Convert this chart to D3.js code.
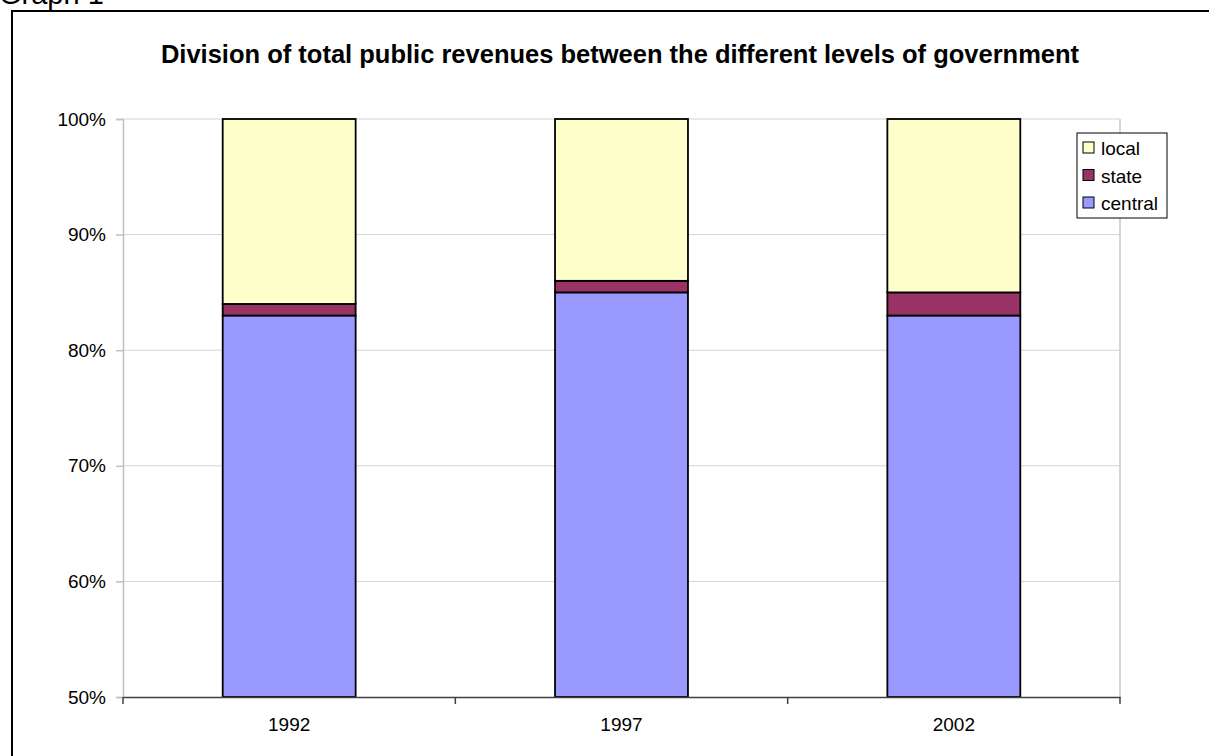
<!DOCTYPE html>
<html><head><meta charset="utf-8">
<script src="https://cdn.jsdelivr.net/npm/d3@7"></script>
<style>body{margin:0;background:#fff}svg{display:block;font-family:"Liberation Sans",Arial,sans-serif}</style>
</head><body><svg id="c" width="1209" height="756"></svg>
<script>
const categories = ["1992", "1997", "2002"];
const seriesNames = ["central", "state", "local"];
const central = [83, 85, 83];
const state = [1, 1, 2];
const local = [16, 14, 15];
const yTicks = [50, 60, 70, 80, 90, 100];
const colors = {central: "#9999FF", state: "#993366", local: "#FFFFCC"};

const svg = d3.select("#c");
// outer frame
svg.append("line").attr("x1", 12).attr("x2", 1209).attr("y1", 11).attr("y2", 11).attr("stroke", "#000").attr("stroke-width", 2);
svg.append("line").attr("x1", 12).attr("x2", 12).attr("y1", 10).attr("y2", 756).attr("stroke", "#000").attr("stroke-width", 2);
svg.append("text").attr("x", -1).attr("y", 4).attr("font-size", 29).text("Graph 1");

svg.append("text").attr("x", 620).attr("y", 63).attr("text-anchor", "middle")
  .attr("font-size", 25.5).attr("font-weight", "bold").text("Division of total public revenues between the different levels of government");

const L = 123, R = 1120, T = 119, B = 697;
const x = d3.scaleBand().domain(categories).range([L, R]).paddingInner(0).paddingOuter(0);
const y = d3.scaleLinear().domain([50, 100]).range([B, T]);

// gridlines
svg.append("g").selectAll("line").data(yTicks.slice(1)).join("line")
  .attr("x1", L).attr("x2", R).attr("y1", d => y(d)).attr("y2", d => y(d))
  .attr("stroke", "#d4d4d4").attr("stroke-width", 1);
// plot area right border
svg.append("line").attr("x1", R).attr("x2", R).attr("y1", T).attr("y2", B).attr("stroke", "#c8c8c8").attr("stroke-width", 1.5);

// y axis
const ya = svg.append("g").attr("transform", `translate(${L},0)`)
  .call(d3.axisLeft(y).tickValues(yTicks).tickFormat(d => d + "%").tickSize(7).tickPadding(10));
ya.attr("font-size", 19).attr("font-family", null);
ya.select(".domain").attr("stroke", "#c0c0c0").attr("stroke-width", 1.5);
ya.selectAll(".tick line").attr("stroke", "#c0c0c0").attr("stroke-width", 1.5);
ya.selectAll("text").attr("fill", "#000");

// stacked bars
const rows = categories.map((c, i) => ({cat: c, central: central[i], state: state[i], local: local[i]}));
const stack = d3.stack().keys(seriesNames)(rows);
const bw = x.bandwidth() * 0.4;
svg.append("g").selectAll("g").data(stack).join("g").attr("fill", d => colors[d.key])
  .selectAll("rect").data(d => d).join("rect")
  .attr("x", d => x(d.data.cat) + (x.bandwidth() - bw) / 2)
  .attr("width", bw)
  .attr("y", d => y(Math.min(100, d[1])))
  .attr("height", d => y(Math.max(50, d[0])) - y(Math.min(100, d[1])))
  .attr("stroke", "#000").attr("stroke-width", 1.8);

// x axis
const xa = svg.append("g").attr("transform", `translate(0,${B})`)
  .call(d3.axisBottom(x).tickSize(0).tickPadding(21));
xa.attr("font-size", 19).attr("font-family", null);
xa.select(".domain").attr("stroke", "#404040").attr("stroke-width", 1.5);
xa.selectAll("text").attr("fill", "#000");
const bounds = categories.map(c => x(c)).concat([R]);
svg.append("g").selectAll("line").data(bounds).join("line")
  .attr("x1", d => d).attr("x2", d => d).attr("y1", B).attr("y2", B + 7)
  .attr("stroke", "#404040").attr("stroke-width", 1.5);

// legend
const lg = svg.append("g");
lg.append("rect").attr("x", 1077).attr("y", 133).attr("width", 90).attr("height", 85)
  .attr("fill", "#fff").attr("stroke", "#000").attr("stroke-width", 1);
const legendItems = ["local", "state", "central"];
legendItems.forEach((k, i) => {
  const cy = 148 + i * 27.5;
  lg.append("rect").attr("x", 1083).attr("y", cy - 6).attr("width", 11).attr("height", 11)
    .attr("fill", colors[k]).attr("stroke", "#000").attr("stroke-width", 1);
  lg.append("text").attr("x", 1101).attr("y", cy + 7).attr("font-size", 19).text(k);
});
</script></body></html>
